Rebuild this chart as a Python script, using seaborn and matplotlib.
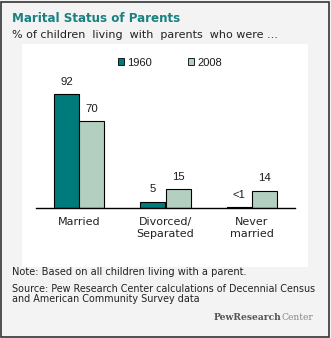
import matplotlib
matplotlib.use("Agg")
import matplotlib.pyplot as plt
import seaborn as sns
import pandas as pd
from matplotlib.patches import Rectangle, Patch

categories = ["Married", "Divorced/\nSeparated", "Never\nmarried"]
years = ["1960", "2008"]
values_1960 = [92, 5, 0.5]
values_2008 = [70, 15, 14]
labels_1960 = ["92", "5", "<1"]
labels_2008 = ["70", "15", "14"]

df = pd.DataFrame({
    "category": categories * 2,
    "year": [years[0]] * 3 + [years[1]] * 3,
    "value": values_1960 + values_2008,
})

sns.set_theme(style="white")
FONT = "DejaVu Sans"
NUMFONT = "Liberation Sans"
plt.rcParams["font.family"] = [FONT]

W, H = 331, 338
fig = plt.figure(figsize=(W / 100, H / 100), dpi=100)
fig.patch.set_facecolor("#f3f3f3")

# border
fig.patches.append(Rectangle((0.5 / W, 1.5 / H), (W - 3) / W, (H - 3) / H, transform=fig.transFigure,
                             facecolor="none", edgecolor="#333333", linewidth=1.2, zorder=-2))
# white plot panel
fig.patches.append(Rectangle((22 / W, 1 - 266.5 / H), (308 - 22) / W, (266.5 - 44) / H,
                             transform=fig.transFigure, facecolor="white", edgecolor="none", zorder=-2))

ax = fig.add_axes([36 / W, 1 - 208 / H, (295 - 36) / W, (208 - 80) / H])
ax.set_zorder(2)
ax.set_facecolor("none")
palette = {"1960": "#007b7b", "2008": "#b3cfbf"}
sns.barplot(data=df, x="category", y="value", hue="year", palette=palette, width=0.58, gap=0,
            edgecolor="black", linewidth=0.8, ax=ax, legend=False, saturation=1)

for cont, labs in zip(ax.containers, [labels_1960, labels_2008]):
    ax.bar_label(cont, labels=labs, padding=5.5, fontsize=8.2, color="#1a1a1a", family=NUMFONT)

ax.set_xlim(-0.5, 2.5)
ax.set_ylim(0, 103.5)
ax.set_xlabel("")
ax.set_ylabel("")
ax.set_yticks([])
for s in ["top", "right", "left"]:
    ax.spines[s].set_visible(False)
ax.spines["bottom"].set_color("black")
ax.spines["bottom"].set_linewidth(1.0)
ax.tick_params(axis="x", length=0, pad=6.5, labelsize=8.0, labelcolor="#222222")

handles = [Patch(facecolor=palette[y], edgecolor="black", linewidth=0.6, label=y) for y in years]
leg = fig.legend(handles=handles, loc="center", bbox_to_anchor=(170 / W, 1 - 62.5 / H), ncol=2, frameon=False,
                 prop={"family": NUMFONT, "size": 8.0}, handlelength=0.55, handleheight=0.55,
                 handletextpad=0.25, columnspacing=3.3)
for t in leg.get_texts():
    t.set_color("#1a1a1a")
leg.set_zorder(3)

fig.text(12 / W, 1 - 19 / H, "Marital Status of Parents", fontsize=8.6, fontweight="bold",
         color="#1a8080", ha="left", va="center")
fig.text(12 / W, 1 - 35 / H, "% of children  living  with  parents  who were ...", fontsize=8.0,
         color="#222222", ha="left", va="center")
fig.text(12 / W, 1 - 272 / H, "Note: Based on all children living with a parent.", fontsize=7.1,
         color="#222222", ha="left", va="center")
fig.text(12 / W, 1 - 289 / H, "Source: Pew Research Center calculations of Decennial Census", fontsize=6.9,
         color="#222222", ha="left", va="center")
fig.text(12 / W, 1 - 298.5 / H, "and American Community Survey data", fontsize=6.9,
         color="#222222", ha="left", va="center")
fig.text(281 / W, 1 - 318 / H, "PewResearch", fontsize=6.6, fontweight="bold", family="DejaVu Serif",
         color="#555555", ha="right", va="center")
fig.text(281 / W, 1 - 318 / H, "Center", fontsize=6.6, family="DejaVu Serif",
         color="#888888", ha="left", va="center")

fig.savefig("out.png", dpi=100, facecolor=fig.get_facecolor())
